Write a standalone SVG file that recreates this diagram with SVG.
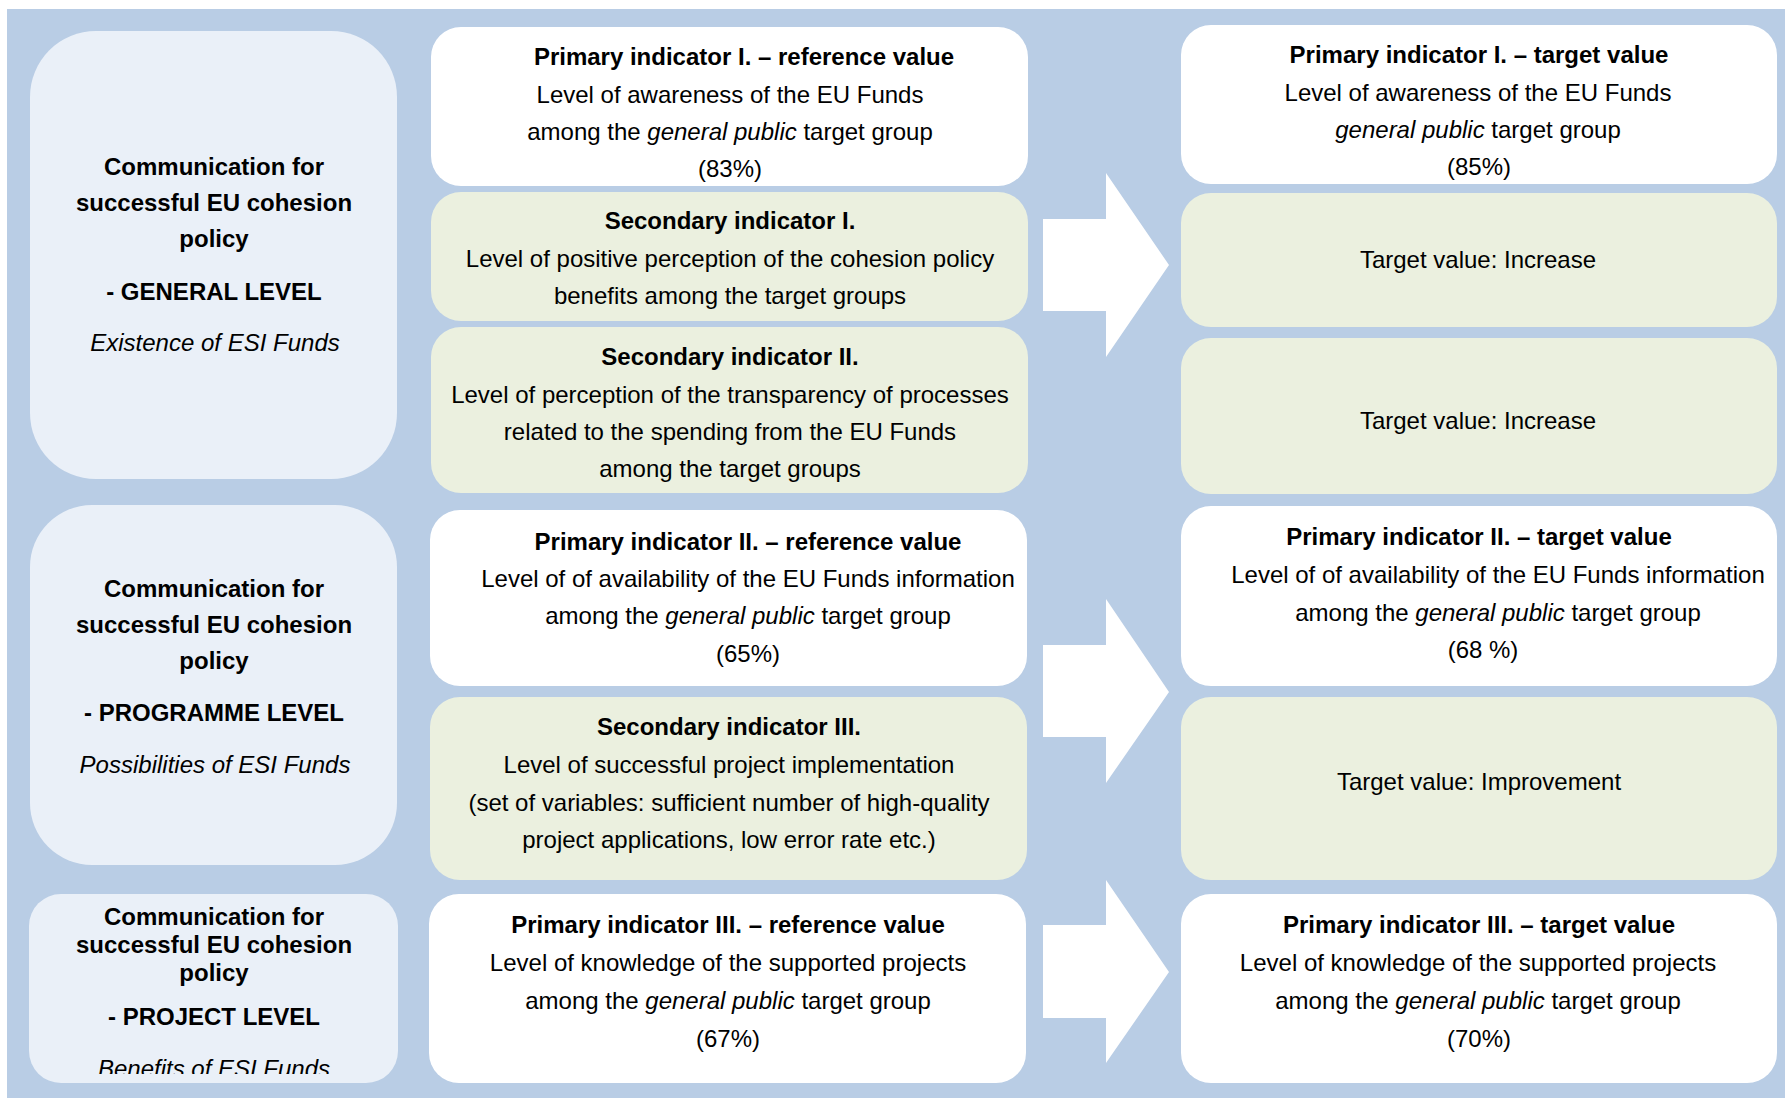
<svg xmlns="http://www.w3.org/2000/svg" width="1785" height="1098" viewBox="0 0 1785 1098">
<defs>
<style>
.lvl{fill:#EAF0F8}
.wh{fill:#FFFFFF}
.gr{fill:#EBF0DF}
.arr{fill:#FFFFFF}
text{font-family:"Liberation Sans",Arial,sans-serif;font-size:24px;fill:#000;text-anchor:middle}
.b{font-weight:bold}
.i{font-style:italic}
</style>
<clipPath id="clip3"><rect x="29" y="894" width="369" height="180"/></clipPath>
</defs>
<rect x="0" y="0" width="1785" height="1098" fill="#FFFFFF"/>
<rect x="7" y="9" width="1778" height="1089" fill="#B9CDE5"/>

<g id="connectors">
<polygon class="arr" points="1043,219 1106,219 1106,173 1169,265 1106,357 1106,311 1043,311"/>
<polygon class="arr" points="1043,645 1106,645 1106,599 1169,692 1106,783 1106,737 1043,737"/>
<polygon class="arr" points="1043,925 1106,925 1106,880 1169,972 1106,1063 1106,1018 1043,1018"/>
</g>

<g id="level-general">
<rect class="lvl" x="30" y="31" width="367" height="448" rx="66" ry="66"/>
<text class="b" x="214" y="175">Communication for</text>
<text class="b" x="214" y="211">successful EU cohesion</text>
<text class="b" x="214" y="247">policy</text>
<text class="b" x="214" y="300">- GENERAL LEVEL</text>
<text class="i" x="215" y="351">Existence of ESI Funds</text>
</g>

<g id="level-programme">
<rect class="lvl" x="30" y="505" width="367" height="360" rx="62" ry="62"/>
<text class="b" x="214" y="597">Communication for</text>
<text class="b" x="214" y="633">successful EU cohesion</text>
<text class="b" x="214" y="669">policy</text>
<text class="b" x="214" y="721">- PROGRAMME LEVEL</text>
<text class="i" x="215" y="773">Possibilities of ESI Funds</text>
</g>

<g id="level-project">
<rect class="lvl" x="29" y="894" width="369" height="189" rx="32" ry="32"/>
<g clip-path="url(#clip3)">
<text class="b" x="214" y="925">Communication for</text>
<text class="b" x="214" y="953">successful EU cohesion</text>
<text class="b" x="214" y="981">policy</text>
<text class="b" x="214" y="1025">- PROJECT LEVEL</text>
<text class="i" x="214" y="1077">Benefits of ESI Funds</text>
</g>
</g>

<g id="primary1-ref">
<rect class="wh" x="431" y="27" width="597" height="159" rx="30" ry="30"/>
<text class="b" x="744" y="65">Primary indicator I. – reference value</text>
<text x="730" y="103">Level of awareness of the EU Funds</text>
<text x="730" y="140">among the <tspan class="i">general public</tspan> target group</text>
<text x="730" y="177">(83%)</text>
</g>

<g id="secondary1">
<rect class="gr" x="431" y="192" width="597" height="129" rx="30" ry="30"/>
<text class="b" x="730" y="229">Secondary indicator I.</text>
<text x="730" y="267">Level of positive perception of the cohesion policy</text>
<text x="730" y="304">benefits among the target groups</text>
</g>

<g id="secondary2">
<rect class="gr" x="431" y="327" width="597" height="166" rx="30" ry="30"/>
<text class="b" x="730" y="365">Secondary indicator II.</text>
<text x="730" y="403">Level of perception of the transparency of processes</text>
<text x="730" y="440">related to the spending from the EU Funds</text>
<text x="730" y="477">among the target groups</text>
</g>

<g id="primary2-ref">
<rect class="wh" x="430" y="510" width="597" height="176" rx="30" ry="30"/>
<text class="b" x="748" y="550">Primary indicator II. – reference value</text>
<text x="748" y="587">Level of of availability of the EU Funds information</text>
<text x="748" y="624">among the <tspan class="i">general public</tspan> target group</text>
<text x="748" y="662">(65%)</text>
</g>

<g id="secondary3">
<rect class="gr" x="430" y="697" width="597" height="183" rx="30" ry="30"/>
<text class="b" x="729" y="735">Secondary indicator III.</text>
<text x="729" y="773">Level of successful project implementation</text>
<text x="729" y="811">(set of variables: sufficient number of high-quality</text>
<text x="729" y="848">project applications, low error rate etc.)</text>
</g>

<g id="primary3-ref">
<rect class="wh" x="429" y="894" width="597" height="189" rx="30" ry="30"/>
<text class="b" x="728" y="933">Primary indicator III. – reference value</text>
<text x="728" y="971">Level of knowledge of the supported projects</text>
<text x="728" y="1009">among the <tspan class="i">general public</tspan> target group</text>
<text x="728" y="1047">(67%)</text>
</g>

<g id="primary1-target">
<rect class="wh" x="1181" y="25" width="596" height="159" rx="30" ry="30"/>
<text class="b" x="1479" y="63">Primary indicator I. – target value</text>
<text x="1478" y="101">Level of awareness of the EU Funds</text>
<text x="1478" y="138"><tspan class="i">general public</tspan> target group</text>
<text x="1479" y="175">(85%)</text>
</g>

<g id="secondary1-target">
<rect class="gr" x="1181" y="193" width="596" height="134" rx="30" ry="30"/>
<text x="1478" y="268">Target value: Increase</text>
</g>

<g id="secondary2-target">
<rect class="gr" x="1181" y="338" width="596" height="156" rx="30" ry="30"/>
<text x="1478" y="429">Target value: Increase</text>
</g>

<g id="primary2-target">
<rect class="wh" x="1181" y="506" width="596" height="180" rx="30" ry="30"/>
<text class="b" x="1479" y="545">Primary indicator II. – target value</text>
<text x="1498" y="583">Level of of availability of the EU Funds information</text>
<text x="1498" y="621">among the <tspan class="i">general public</tspan> target group</text>
<text x="1483" y="658">(68 %)</text>
</g>

<g id="secondary3-target">
<rect class="gr" x="1181" y="697" width="596" height="183" rx="30" ry="30"/>
<text x="1479" y="790">Target value: Improvement</text>
</g>

<g id="primary3-target">
<rect class="wh" x="1181" y="894" width="596" height="189" rx="30" ry="30"/>
<text class="b" x="1479" y="933">Primary indicator III. – target value</text>
<text x="1478" y="971">Level of knowledge of the supported projects</text>
<text x="1478" y="1009">among the <tspan class="i">general public</tspan> target group</text>
<text x="1479" y="1047">(70%)</text>
</g>
</svg>
